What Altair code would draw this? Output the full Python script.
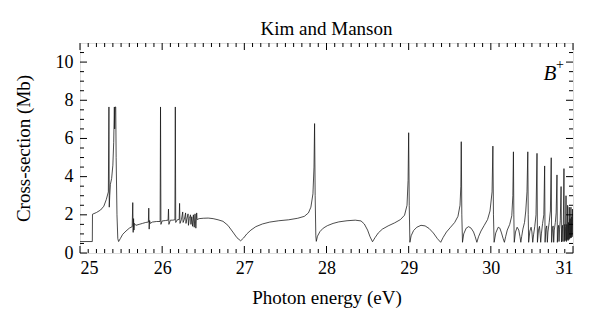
import altair as alt
import pandas as pd

# Photon energy (eV) and cross-section (Mb)
energy = [
    25.00, 25.15, 25.152, 25.20, 25.25, 25.29, 25.32, 25.345, 25.352, 25.356, 25.362, 25.37, 25.385, 25.40, 25.41,
    25.418, 25.422, 25.428, 25.435, 25.44, 25.45, 25.46, 25.47, 25.49, 25.52, 25.56, 25.60, 25.635, 25.642, 25.647,
    25.652, 25.657, 25.662, 25.68, 25.72, 25.76, 25.80, 25.832, 25.837, 25.842, 25.847, 25.855, 25.88, 25.93, 25.975,
    25.98, 25.985, 26.00, 26.04, 26.072, 26.077, 26.082, 26.10, 26.13, 26.155, 26.16, 26.165, 26.185, 26.207, 26.212,
    26.217, 26.235, 26.25, 26.255, 26.27, 26.285, 26.29, 26.30, 26.315, 26.32, 26.33, 26.345, 26.35, 26.36, 26.37,
    26.38, 26.39, 26.40, 26.41, 26.42, 26.425, 26.45, 26.50, 26.56, 26.62, 26.68, 26.74, 26.80, 26.86, 26.91,
    26.955, 26.99, 27.03, 27.08, 27.14, 27.22, 27.31, 27.42, 27.54, 27.65, 27.73, 27.78, 27.81, 27.835, 27.848,
    27.855, 27.862, 27.87, 27.876, 27.89, 27.92, 27.96, 28.01, 28.08, 28.15, 28.25, 28.35, 28.42, 28.46, 28.50,
    28.53, 28.56, 28.59, 28.63, 28.68, 28.75, 28.83, 28.90, 28.95, 28.98, 28.993, 29.00, 29.007, 29.015, 29.03,
    29.06, 29.10, 29.15, 29.20, 29.25, 29.30, 29.35, 29.39, 29.42, 29.46, 29.51, 29.56, 29.60, 29.625, 29.635,
    29.64, 29.647, 29.655, 29.67, 29.70, 29.73, 29.76, 29.79, 29.81, 29.83, 29.85, 29.88, 29.92, 29.96, 29.99,
    30.015, 30.025, 30.032, 30.04, 30.06, 30.09, 30.11, 30.13, 30.15, 30.165, 30.18, 30.20, 30.23, 30.255, 30.268,
    30.275, 30.28, 30.285, 30.30, 30.32, 30.34, 30.355, 30.365, 30.375, 30.39, 30.41, 30.425, 30.44, 30.45, 30.455,
    30.46, 30.475, 30.49, 30.50, 30.51, 30.52, 30.535, 30.55, 30.562, 30.567, 30.58, 30.592, 30.60, 30.607, 30.615,
    30.63, 30.645, 30.655, 30.66, 30.67, 30.68, 30.688, 30.695, 30.71, 30.725, 30.735, 30.74, 30.75, 30.758, 30.765,
    30.772, 30.785, 30.795, 30.805, 30.81, 30.818, 30.825, 30.83, 30.836, 30.845, 30.855, 30.86, 30.866, 30.872, 30.877,
    30.882, 30.89, 30.894, 30.90, 30.905, 30.91, 30.915, 30.92, 30.925, 30.93, 30.935, 30.94, 30.945, 30.95, 30.955,
    30.96, 30.965, 30.97, 30.975, 30.98, 30.985, 30.99, 30.995, 31.00,
]
sigma = [
    0.60, 0.60, 2.03, 2.12, 2.25, 2.45, 2.80, 3.20, 7.65, 2.40, 3.00, 3.60, 3.90, 4.60, 5.80,
    7.65, 6.50, 7.65, 7.65, 5.00, 2.00, 0.75, 0.60, 0.75, 0.98, 1.15, 1.30, 1.38, 2.64, 1.08,
    1.80, 1.20, 1.55, 1.45, 1.50, 1.55, 1.60, 1.62, 2.35, 1.25, 1.70, 1.55, 1.62, 1.65, 1.65,
    7.65, 1.50, 1.68, 1.70, 1.72, 2.30, 1.50, 1.72, 1.72, 1.74, 7.65, 1.60, 1.74, 1.76, 2.60,
    1.55, 1.76, 2.15, 1.60, 1.77, 2.10, 1.55, 1.78, 2.05, 1.45, 1.80, 2.00, 1.50, 1.90, 1.40,
    2.00, 1.35, 2.05, 1.30, 2.10, 1.75, 1.80, 1.82, 1.83, 1.80, 1.74, 1.66, 1.45, 1.10, 0.80,
    0.64, 0.78, 1.00, 1.20, 1.38, 1.52, 1.62, 1.69, 1.74, 1.82, 1.92, 2.10, 2.40, 3.10, 4.50,
    6.78, 3.00, 0.90, 0.61, 0.88, 1.12, 1.30, 1.43, 1.55, 1.63, 1.69, 1.72, 1.68, 1.52, 1.20,
    0.85, 0.59, 0.80, 1.05, 1.25, 1.42, 1.58, 1.75, 1.98, 2.50, 3.80, 6.30, 2.50, 0.56, 0.90,
    1.18, 1.35, 1.45, 1.42, 1.28, 1.05, 0.75, 0.56, 0.82, 1.10, 1.35, 1.60, 1.92, 2.50, 3.50,
    5.83, 2.00, 0.56, 1.00, 1.30, 1.38, 1.30, 1.10, 0.85, 0.56, 0.85, 1.15, 1.45, 1.75, 2.20,
    3.20, 5.60, 2.00, 0.56, 1.05, 1.35, 1.30, 1.05, 0.75, 0.56, 0.85, 1.20, 1.50, 1.95, 3.00,
    5.30, 2.00, 0.56, 1.10, 1.35, 1.20, 0.85, 0.56, 0.85, 1.25, 1.60, 2.20, 3.20, 5.30, 2.00,
    0.56, 1.15, 1.35, 1.10, 0.56, 0.95, 1.40, 2.00, 5.22, 0.56, 1.20, 1.40, 1.00, 0.56, 1.00,
    1.55, 2.00, 4.56, 0.56, 1.25, 1.42, 0.56, 1.10, 1.60, 2.20, 4.99, 0.56, 1.30, 1.42, 0.56,
    1.20, 1.60, 2.10, 4.09, 0.56, 1.30, 1.45, 0.60, 1.25, 1.70, 3.48, 0.58, 1.30, 1.45, 0.60,
    1.40, 4.42, 0.60, 1.50, 0.65, 1.40, 3.00, 0.60, 1.50, 0.70, 2.50, 0.65, 1.60, 0.70, 2.40,
    0.75, 1.80, 0.80, 2.40, 0.80, 1.90, 0.85, 2.30, 1.00,
]

x_major = [25, 26, 27, 28, 29, 30, 31]
y_major = [0, 2, 4, 6, 8, 10]
x_minor = [round(25 + i * 0.1, 1) for i in range(1, 60) if i % 10 != 0]
y_minor = [round(i * 0.5, 1) for i in range(1, 22) if i % 4 != 0]

W, H = 493, 210
FONT = "Liberation Serif"

xs = alt.Scale(domain=[25, 31], nice=False, zero=False)
ys = alt.Scale(domain=[0, 11], nice=False, zero=True)

df = pd.DataFrame({"E": energy, "S": sigma})

line = alt.Chart(df).mark_line(color="#111111", strokeWidth=0.75, clip=True).encode(
    x=alt.X("E:Q", scale=xs,
            axis=alt.Axis(values=x_major, format="d", ticks=False, domain=False, grid=False,
                          labelFont=FONT, labelFontSize=18, labelColor="black",
                          labelPadding=6, title="Photon energy (eV)", titleFont=FONT,
                          titleFontSize=19, titleFontWeight="normal", titleColor="black",
                          titlePadding=11)),
    y=alt.Y("S:Q", scale=ys,
            axis=alt.Axis(values=y_major, format="d", ticks=False, domain=False, grid=False,
                          labelFont=FONT, labelFontSize=18, labelColor="black",
                          labelPadding=7, title="Cross-section (Mb)", titleFont=FONT,
                          titleFontSize=19, titleFontWeight="normal", titleColor="black",
                          titlePadding=22)),
)

def xticks(vals, length):
    d = pd.DataFrame({"t": vals})
    b = alt.Chart(d).mark_rule(color="black", strokeWidth=1).encode(
        x=alt.X("t:Q", scale=xs), y=alt.value(H), y2=alt.value(H - length))
    t = alt.Chart(d).mark_rule(color="black", strokeWidth=1).encode(
        x=alt.X("t:Q", scale=xs), y=alt.value(0), y2=alt.value(length))
    return [b, t]

def yticks(vals, length):
    d = pd.DataFrame({"t": vals})
    l = alt.Chart(d).mark_rule(color="black", strokeWidth=1).encode(
        y=alt.Y("t:Q", scale=ys), x=alt.value(0), x2=alt.value(length))
    r = alt.Chart(d).mark_rule(color="black", strokeWidth=1).encode(
        y=alt.Y("t:Q", scale=ys), x=alt.value(W), x2=alt.value(W - length))
    return [l, r]

ticks = xticks(x_major, 7) + xticks(x_minor, 4) + yticks(y_major, 7) + yticks(y_minor, 4)

label = alt.Chart(pd.DataFrame({"E": [30.72], "S": [9.4], "txt": ["B"]})).mark_text(
    font=FONT, fontSize=21, fontStyle="italic", fill="black", color="black",
    align="center", baseline="middle"
).encode(x=alt.X("E:Q", scale=xs), y=alt.Y("S:Q", scale=ys), text="txt:N")
plus = alt.Chart(pd.DataFrame({"E": [30.84], "S": [9.85], "txt": ["+"]})).mark_text(
    font=FONT, fontSize=14, fill="black", color="black", align="center", baseline="middle"
).encode(x=alt.X("E:Q", scale=xs), y=alt.Y("S:Q", scale=ys), text="txt:N")

chart = alt.layer(line, *ticks, label, plus).properties(
    width=W, height=H,
    title=alt.Title("Kim and Manson", font=FONT, fontSize=19, fontWeight="normal",
                    color="black", offset=4),
    autosize=alt.AutoSizeParams(type="none"),
    padding={"left": 80, "top": 43, "right": 27, "bottom": 78},
).configure_view(stroke="black", strokeWidth=1.2).configure(background="white")

chart.save("out.html", embed_options={"renderer": "svg", "actions": False})
